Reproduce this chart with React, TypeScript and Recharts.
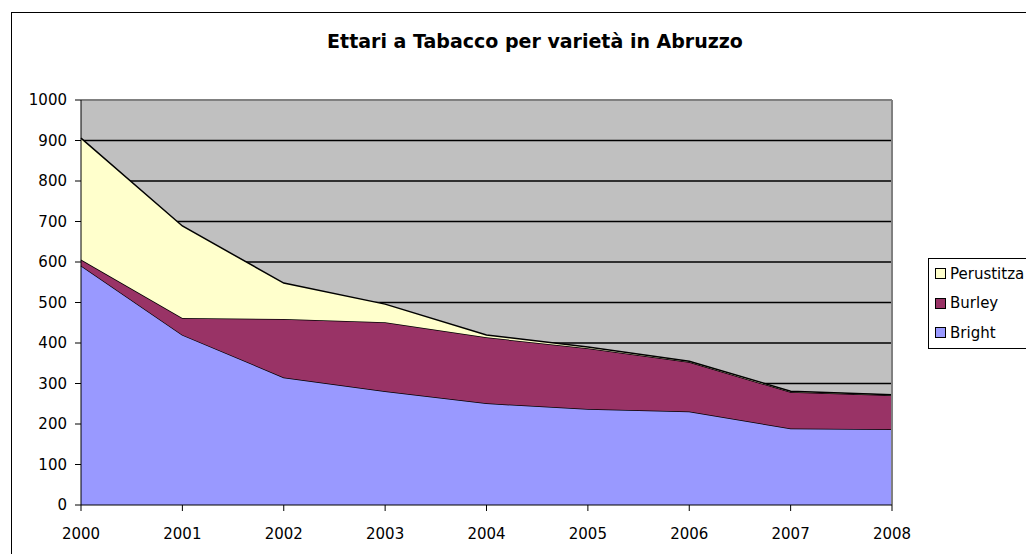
import React from 'react';
import { AreaChart, Area, XAxis, YAxis, CartesianGrid, ReferenceLine } from 'recharts';

const years = ['2000', '2001', '2002', '2003', '2004', '2005', '2006', '2007', '2008'];
const bright = [591, 420, 315, 281, 251, 237, 231, 189, 187];
const burley = [15, 42, 144, 170, 163, 150, 122, 90, 84];
const perustitza = [300, 227, 89, 45, 6, 3, 2, 2, 1];
const yTicks = [0, 100, 200, 300, 400, 500, 600, 700, 800, 900, 1000];

const data = years.map((year, i) => ({
  year,
  Bright: bright[i],
  Burley: burley[i],
  Perustitza: perustitza[i],
}));

const legendItems = [
  { name: 'Perustitza', color: '#FFFFCC' },
  { name: 'Burley', color: '#993366' },
  { name: 'Bright', color: '#9999FF' },
];

const font = '"DejaVu Sans", sans-serif';

const LegendBox = () => (
  <div
    style={{
      border: '1px solid #000',
      background: '#fff',
      width: 110,
      padding: '0 0 0 6px',
      fontFamily: font,
      fontSize: 15,
      color: '#000',
    }}
  >
    {legendItems.map((it) => (
      <div key={it.name} style={{ display: 'flex', alignItems: 'center', height: 29.5 }}>
        <span
          style={{
            display: 'inline-block',
            width: 9,
            height: 9,
            background: it.color,
            border: '1px solid #000',
            marginRight: 4,
          }}
        />
        <span style={{ whiteSpace: 'nowrap' }}>{it.name}</span>
      </div>
    ))}
  </div>
);

const App: React.FC = () => {
  return (
    <div style={{ position: 'absolute', left: 0, top: 0, width: 1026, height: 554, overflow: 'hidden', background: '#fff' }}>
      <div
        style={{
          position: 'absolute',
          left: 11,
          top: 12,
          width: 1040,
          height: 560,
          border: '1px solid #000',
        }}
      />
      <div
        style={{
          position: 'absolute',
          left: 0,
          width: 1070,
          top: 30,
          textAlign: 'center',
          fontFamily: font,
          fontWeight: 'bold',
          fontSize: 19,
          color: '#000',
        }}
      >
        Ettari a Tabacco per varietà in Abruzzo
      </div>
      <div style={{ position: 'absolute', left: 0, top: 0 }}>
        <AreaChart width={1026} height={554} data={data} margin={{ top: 100, right: 134, bottom: 19, left: 21 }}>
          <CartesianGrid
            vertical={false}
            fill="#C0C0C0"
            fillOpacity={1}
            stroke="#000"
            strokeWidth={1.5}
            horizontalValues={[100, 200, 300, 400, 500, 600, 700, 800, 900]}
          />
          <XAxis
            dataKey="year"
            height={30}
            tickSize={6}
            tickMargin={17}
            stroke="#000"
            tick={{ fill: '#000', fontFamily: font, fontSize: 15 }}
            interval={0}
          />
          <YAxis
            width={60}
            domain={[0, 1000]}
            ticks={yTicks}
            tickSize={6}
            tickMargin={8}
            stroke="#000"
            tick={{ fill: '#000', fontFamily: font, fontSize: 15 }}
            interval={0}
          />
          <Area type="linear" dataKey="Bright" stackId="1" stroke="#000" strokeWidth={1.5} fill="#9999FF" fillOpacity={1} isAnimationActive={false} />
          <Area type="linear" dataKey="Burley" stackId="1" stroke="#000" strokeWidth={1.5} fill="#993366" fillOpacity={1} isAnimationActive={false} />
          <Area type="linear" dataKey="Perustitza" stackId="1" stroke="#000" strokeWidth={1.5} fill="#FFFFCC" fillOpacity={1} isAnimationActive={false} />
          <ReferenceLine y={1000} stroke="#808080" strokeWidth={2} />
          <ReferenceLine x="2008" stroke="#808080" strokeWidth={2} />
        </AreaChart>
      </div>
      <div style={{ position: 'absolute', left: 928, top: 258 }}>
        <LegendBox />
      </div>
    </div>
  );
};

export default App;
